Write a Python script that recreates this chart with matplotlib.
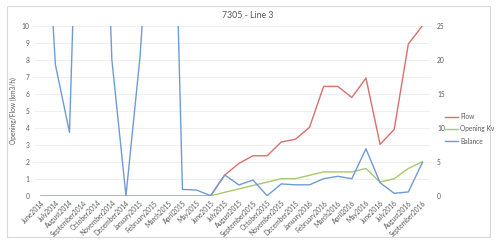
"""
Recreate the '7305 - Line 3' chart: Flow / Opening Kv on the left axis,
Balance on the secondary (right) axis.
"""

import matplotlib
matplotlib.use("Agg")
import matplotlib.pyplot as plt
from matplotlib.patches import Rectangle
import numpy as np

# ===== Data =====
months = ['June2014', 'July2014', 'August2014', 'September2014', 'October2014',
          'November2014', 'December2014', 'January2015', 'February2015', 'March2015',
          'April2015', 'May2015', 'June2015', 'July2015', 'August2015',
          'September2015', 'October2015', 'November2015', 'December2015',
          'January2016', 'February2016', 'March2016', 'April2016', 'May2016',
          'June2016', 'July2016', 'August2016', 'September2016']

flow = [0, 0, 0, 0, 0, 0, 0, 0, 0, 0, 0, 0, 0,
        1.22, 1.9, 2.35, 2.35, 3.16, 3.32, 4.02, 6.43, 6.43, 5.78, 6.92,
        3.02, 3.9, 8.92, 10.0]

opening_kv = [0, 0, 0, 0, 0, 0, 0, 0, 0, 0, 0, 0, 0,
              0.2, 0.4, 0.6, 0.8, 1.0, 1.0, 1.2, 1.4, 1.4, 1.4, 1.6,
              0.8, 1.0, 1.6, 2.0]

# secondary axis (0-25), several months run off the top of the chart
balance = [55, 19.3, 9.3, 78, 80, 20.0, 0, 20.5, 52, 82, 0.93, 0.83, 0,
           3.05, 1.58, 2.3, 0, 1.73, 1.6, 1.6, 2.5, 2.85, 2.5, 6.9,
           1.9, 0.35, 0.55, 4.9]

left_ticks = list(range(0, 11))
right_ticks = [0, 5, 10, 15, 20, 25]

# ===== Style =====
txt = '#595959'
grid_c = '#EDEDED'
c_flow = '#D9706B'
c_kv = '#A9C86A'
c_bal = '#6E9BD6'
fs = 4.8
plt.rcParams['font.family'] = ['Lato', 'DejaVu Sans']

W, H = 500, 247
fig = plt.figure(figsize=(W / 100, H / 100), dpi=100)

# chart border
fig.patches.append(Rectangle((7 / W, 1 - 237 / H), 483 / W, 231 / H,
                             transform=fig.transFigure, fill=False,
                             edgecolor='#D9D9D9', linewidth=0.8))

x0, x1, y_top, y_bot = 34.2, 429.5, 25.7, 195.7
ax = fig.add_axes([x0 / W, 1 - y_bot / H, (x1 - x0) / W, (y_bot - y_top) / H])
ax2 = ax.twinx()

x = np.arange(len(months))

# ===== Primary axis =====
ax.plot(x, flow, color=c_flow, linewidth=1.0, label='Flow')
ax.plot(x, opening_kv, color=c_kv, linewidth=1.0, label='Opening Kv')
ax.set_ylim(0, 10)
ax.set_xlim(-0.5, len(months) - 0.5)
ax.set_yticks(left_ticks)
ax.grid(True, axis='y', color=grid_c, linewidth=0.6)
ax.set_axisbelow(True)
ax.tick_params(axis='y', length=0, labelsize=fs, labelcolor=txt, pad=3.5)
ax.set_xticks(x)
ax.set_xticklabels(months, rotation=45, ha='right', va='top',
                   rotation_mode='anchor', fontsize=fs, color=txt)
ax.tick_params(axis='x', length=0, pad=2.5)
ax.set_ylabel('Opening/Flow (km3/h)', fontsize=fs, color=txt, labelpad=3)

# ===== Secondary axis =====
ax2.plot(x, balance, color=c_bal, linewidth=1.0, label='Balance')
ax2.set_ylim(0, 25)
ax2.set_yticks(right_ticks)
ax2.tick_params(axis='y', length=0, labelsize=fs, labelcolor=txt, pad=5.5)

for a in (ax, ax2):
    for s in a.spines.values():
        s.set_visible(False)

# Title
fig.text(248 / W, 1 - 15 / H, '7305 - Line 3', ha='center', va='center',
         fontsize=6.3, color=txt)

# Legend
h1, l1 = ax.get_legend_handles_labels()
h2, l2 = ax2.get_legend_handles_labels()
fig.legend(h1 + h2, l1 + l2, loc='upper left',
           bbox_to_anchor=(445 / W, 1 - 113 / H), frameon=False,
           fontsize=fs, labelcolor=txt, handlelength=2.0, handletextpad=0.3,
           labelspacing=0.8, borderpad=0, borderaxespad=0)

plt.savefig('out.png', dpi=100)
